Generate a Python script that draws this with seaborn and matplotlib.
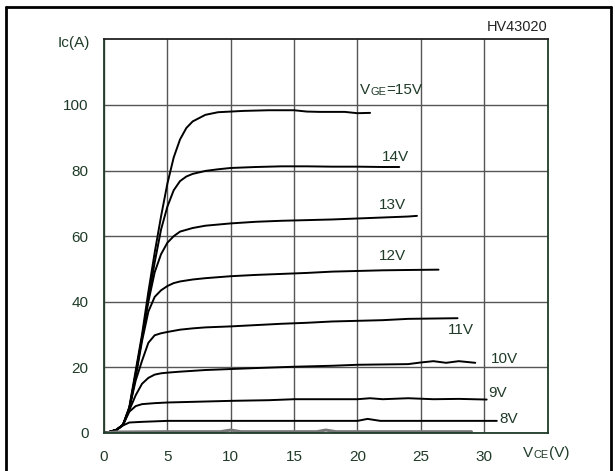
import matplotlib
matplotlib.use("Agg")
import matplotlib.pyplot as plt
import seaborn as sns
import pandas as pd

# ---- data ----
vge_labels = ["15V", "14V", "13V", "12V", "11V", "10V", "9V", "8V"]

x15 = [0, 0.5, 1.0, 1.5, 2.0, 2.5, 3.0, 3.5, 4.0, 4.5, 5.0, 5.5, 6.0, 6.5, 7.0, 8.0, 9.0, 10, 11, 12, 13, 14, 15, 16, 17, 18, 19, 20, 21]
y15 = [0, 0.4, 1.0, 2.5, 8, 19, 30, 43, 55, 66, 76, 84, 89.5, 93, 95, 97, 97.8, 98.0, 98.2, 98.3, 98.4, 98.4, 98.4, 98.0, 97.9, 97.9, 97.9, 97.5, 97.6]

x14 = [0, 0.5, 1, 1.5, 2, 2.5, 3, 3.5, 4, 4.5, 5, 5.5, 6, 6.5, 7, 8, 9, 10, 12, 14, 16, 18, 20, 22, 23.3]
y14 = [0, 0.4, 1, 2.5, 7.5, 18, 29, 41, 52, 62, 69, 74, 76.8, 78.2, 79, 79.9, 80.4, 80.8, 81.1, 81.3, 81.3, 81.2, 81.2, 81.1, 81.1]

x13 = [0, 0.5, 1, 1.5, 2, 2.5, 3, 3.5, 4, 4.5, 5, 5.5, 6, 7, 8, 10, 12, 14, 16, 18, 20, 22, 24, 24.7]
y13 = [0, 0.4, 1, 2.5, 7.5, 18, 29, 40, 49, 54.5, 58, 60, 61.4, 62.5, 63.2, 63.9, 64.4, 64.7, 64.9, 65.1, 65.4, 65.7, 66.0, 66.2]

x12 = [0, 0.5, 1, 1.5, 2, 2.5, 3, 3.5, 4, 4.5, 5, 5.5, 6, 7, 8, 10, 12, 14, 16, 18, 20, 22, 24, 26.4]
y12 = [0, 0.4, 1, 2.5, 7.5, 17, 28, 37, 41.5, 43.5, 44.8, 45.7, 46.2, 46.8, 47.2, 47.8, 48.2, 48.5, 48.8, 49.2, 49.4, 49.6, 49.7, 49.8]

x11 = [0, 0.5, 1, 1.5, 2, 2.5, 3, 3.5, 4, 4.5, 5, 6, 7, 8, 10, 12, 14, 16, 18, 20, 22, 24, 26, 27.9]
y11 = [0, 0.4, 1, 2.5, 7.5, 16, 22, 27.5, 29.8, 30.4, 30.8, 31.5, 31.9, 32.2, 32.5, 32.9, 33.3, 33.6, 34.0, 34.2, 34.4, 34.8, 34.9, 35.0]

x10 = [0, 0.5, 1, 1.5, 2, 2.5, 3, 3.5, 4, 4.5, 5, 6, 8, 10, 12, 15, 18, 20, 22, 24, 25, 26, 27, 28, 29.3]
y10 = [0, 0.4, 1, 2.5, 7, 11.5, 15, 16.8, 17.8, 18.2, 18.4, 18.7, 19.2, 19.5, 19.8, 20.2, 20.5, 20.8, 20.9, 21.0, 21.5, 21.9, 21.4, 21.9, 21.4]

x9 = [0, 0.5, 1, 1.5, 2, 2.5, 3, 4, 5, 7, 10, 13, 15, 18, 20, 21, 22, 24, 26, 28, 30.2]
y9 = [0, 0.4, 1, 2.5, 6.5, 8.2, 8.8, 9.1, 9.3, 9.5, 9.8, 10.0, 10.3, 10.3, 10.3, 10.6, 10.3, 10.6, 10.3, 10.4, 10.2]

x8 = [0, 0.5, 1, 1.5, 2, 2.5, 3, 5, 10, 15, 20, 20.8, 21.8, 25, 31]
y8 = [0, 0.4, 1, 2.3, 3.2, 3.3, 3.4, 3.7, 3.7, 3.7, 3.7, 4.3, 3.7, 3.7, 3.7]

x_low = [0, 1, 5, 9.2, 10, 10.8, 16.8, 17.5, 18.3, 29.0]
y_low = [0, 0.3, 0.4, 0.4, 0.9, 0.4, 0.4, 0.9, 0.4, 0.4]

x_ticks = [0, 5, 10, 15, 20, 25, 30]
y_ticks = [0, 20, 40, 60, 80, 100]

curves = [(x15, y15), (x14, y14), (x13, y13), (x12, y12),
          (x11, y11), (x10, y10), (x9, y9), (x8, y8)]

# label positions (data coords, left x / centre y)
label_pos = {"14V": (21.9, 84.0), "13V": (21.7, 69.5), "12V": (21.7, 54.0),
             "11V": (27.1, 31.4), "10V": (30.5, 22.5), "9V": (30.3, 12.3),
             "8V": (31.2, 4.2)}

# ---- style ----
sns.set_theme(style="white")
plt.rcParams["font.family"] = ["Liberation Sans", "DejaVu Sans"]
green = "#1f3b28"
fs = 11

fig = plt.figure(figsize=(6.15, 4.71), dpi=100)
ax = fig.add_axes([104 / 615, 38 / 471, (547.5 - 104) / 615, (433 - 39.4) / 471])

rows = []
for lab, (xs, ys) in zip(vge_labels, curves):
    for a, b in zip(xs, ys):
        rows.append({"vce": a, "ic": b, "vge": lab})
df = pd.DataFrame(rows)

sns.lineplot(data=df, x="vce", y="ic", units="vge", estimator=None, sort=False,
             color="black", lw=1.4, ax=ax, legend=False)
sns.lineplot(x=x_low, y=y_low, color="#777777", lw=2.2, ax=ax, sort=False)

ax.set_xlim(0, 35)
ax.set_ylim(0, 120)
ax.set_xticks(x_ticks)
ax.set_yticks(y_ticks)
ax.set_xticklabels([str(t) for t in x_ticks])
ax.set_yticklabels([str(t) for t in y_ticks])
ax.tick_params(axis="both", length=0, labelsize=fs, labelcolor=green)
ax.tick_params(axis="x", pad=12)
ax.tick_params(axis="y", pad=11)
ax.set_xlabel("")
ax.set_ylabel("")
ax.grid(True, color="#555555", lw=1.0)
for s in ax.spines.values():
    s.set_color(green)
    s.set_linewidth(1.3)
ax.spines["top"].set_color("#222222")

# curve labels
for lab, (tx, ty) in label_pos.items():
    ax.text(tx, ty, lab, fontsize=fs, color=green, va="center", ha="left")

# V_GE=15V with small-caps subscript on baseline
t1 = ax.text(20.2, 102.3, "V", fontsize=fs, color=green, va="bottom", ha="left")
t2 = ax.annotate("GE", xy=(1, 0), xycoords=t1, fontsize=fs * 0.72, color=green,
                 va="bottom", ha="left")
t3 = ax.annotate("=15V", xy=(1, 0), xycoords=t2, fontsize=fs, color=green,
                 va="bottom", ha="left")

# x-axis unit label V_CE(V)
u1 = ax.text(33.1, -4.0, "V", fontsize=fs, color=green, va="top", ha="left",
             transform=ax.transData, clip_on=False)
u2 = ax.annotate("CE", xy=(1, 0), xycoords=u1, fontsize=fs * 0.72, color=green,
                 va="bottom", ha="left", annotation_clip=False)
u3 = ax.annotate("(V)", xy=(1, 0), xycoords=u2, fontsize=fs, color=green,
                 va="bottom", ha="left", annotation_clip=False)

# y-axis unit label
ax.text(-1.1, 119, "Ic(A)", fontsize=fs, color=green, va="center", ha="right",
        clip_on=False)

# figure code
ax.text(35, 121.5, "HV43020", fontsize=fs * 0.95, color="#222222", va="bottom", ha="right",
        clip_on=False)

# outer frame
fig.add_artist(plt.Line2D([6 / 615, 6 / 615], [0, 1 - 7 / 471], color="black", lw=2,
                          transform=fig.transFigure))
fig.add_artist(plt.Line2D([6 / 615, 611 / 615], [1 - 7 / 471, 1 - 7 / 471], color="black", lw=2,
                          transform=fig.transFigure))
fig.add_artist(plt.Line2D([611 / 615, 611 / 615], [0, 1 - 7 / 471], color="black", lw=2,
                          transform=fig.transFigure))

fig.savefig("out.png", dpi=100)
